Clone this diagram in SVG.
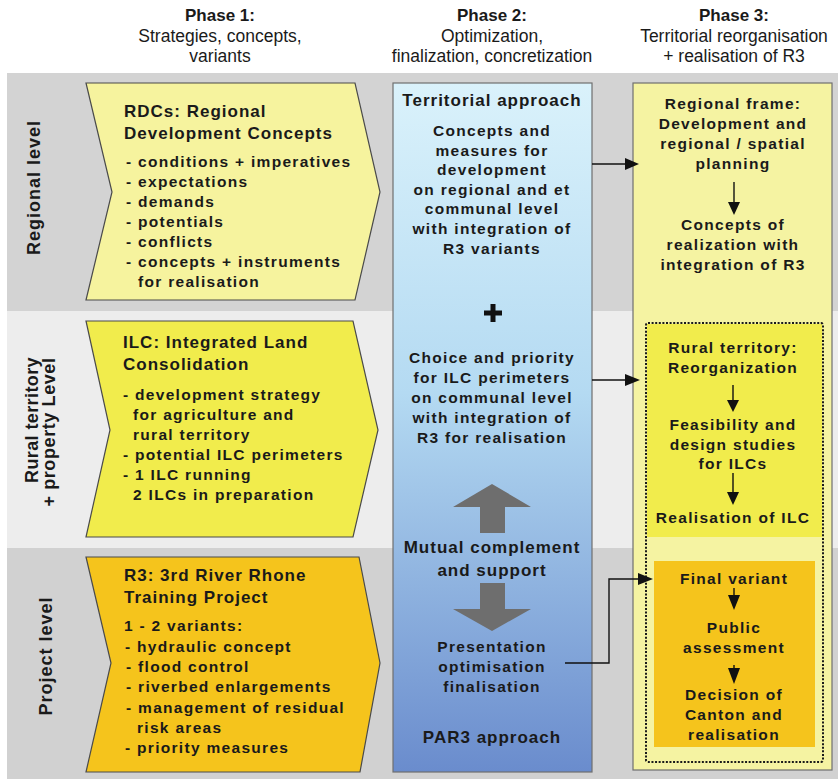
<svg xmlns="http://www.w3.org/2000/svg" width="838" height="779" viewBox="0 0 838 779">
<defs>
<linearGradient id="blueGrad" x1="0" y1="0" x2="0" y2="1">
<stop offset="0" stop-color="#daf2fb"/>
<stop offset="0.45" stop-color="#b4daf2"/>
<stop offset="1" stop-color="#6a8ccd"/>
</linearGradient>
<style>
text{font-family:"Liberation Sans",Arial,sans-serif;fill:#1a1a1a}
.hd{font-size:17.5px;text-anchor:middle}
.hdb{font-size:17px;text-anchor:middle;font-weight:bold}
.side{font-size:18px;font-weight:bold;text-anchor:middle;letter-spacing:1px}
.t1{font-size:17px;font-weight:bold;letter-spacing:1px}
.t2{font-size:15.5px;font-weight:bold;letter-spacing:1.3px}
.c{text-anchor:middle}
.chev{stroke:#4a4a4a;stroke-width:1.2}
.ln{fill:none;stroke:#111;stroke-width:1.4}
.ah{fill:#111}
.big{fill:#6e6e6e}
</style>
</defs>
<rect width="838" height="779" fill="#ffffff"/>
<g id="bands">
<rect x="7" y="73" width="831" height="238" fill="#d3d3d3"/>
<rect x="7" y="311" width="831" height="237" fill="#ededed"/>
<rect x="7" y="548" width="831" height="231" fill="#d1d1d1"/>
</g>
<g id="header">
<text class="hdb" x="220" y="21">Phase 1:</text>
<text class="hd" x="220" y="42">Strategies, concepts,</text>
<text class="hd" x="220" y="62">variants</text>
<text class="hdb" x="492" y="21">Phase 2:</text>
<text class="hd" x="492" y="42">Optimization,</text>
<text class="hd" x="492" y="62">finalization, concretization</text>
<text class="hdb" x="734" y="21">Phase 3:</text>
<text class="hd" x="734" y="42">Territorial reorganisation</text>
<text class="hd" x="734" y="62">+ realisation of  R3</text>
</g>
<g id="level-labels">
<text class="side" transform="translate(40,187.5) rotate(-90)">Regional level</text>
<text class="side" style="letter-spacing:0.4px" transform="translate(38,420) rotate(-90)">Rural territory</text>
<text class="side" style="letter-spacing:0.6px" transform="translate(55,432) rotate(-90)">+ property Level</text>
<text class="side" transform="translate(52,656) rotate(-90)">Project level</text>
</g>
<g id="rdc">
<polygon class="chev" fill="#f6f39e" points="86,83 355,83 380,192 355,300 86,300 112,192"/>
<text class="t1" x="124" y="117">RDCs: Regional</text>
<text class="t1" x="124" y="139">Development Concepts</text>
<text class="t2" x="126" y="167">- conditions + imperatives</text>
<text class="t2" x="126" y="187">- expectations</text>
<text class="t2" x="126" y="207">- demands</text>
<text class="t2" x="126" y="227">- potentials</text>
<text class="t2" x="126" y="247">- conflicts</text>
<text class="t2" x="126" y="267">- concepts + instruments</text>
<text class="t2" x="138" y="287">for realisation</text>
</g>
<g id="ilc">
<polygon class="chev" fill="#f1ec4c" points="86,321 353,321 378,430 353,537 86,537 110,430"/>
<text class="t1" x="123" y="348">ILC: Integrated Land</text>
<text class="t1" x="123" y="370">Consolidation</text>
<text class="t2" x="123" y="400">- development strategy</text>
<text class="t2" x="133" y="420">for agriculture and</text>
<text class="t2" x="133" y="440">rural territory</text>
<text class="t2" x="123" y="460">- potential ILC perimeters</text>
<text class="t2" x="123" y="480">- 1 ILC running</text>
<text class="t2" x="133" y="500">2 ILCs in preparation</text>
</g>
<g id="r3">
<polygon class="chev" fill="#f5c41c" points="86,557 359,557 380,663 360,772 86,772 111,663"/>
<text class="t1" x="124" y="581">R3: 3rd River Rhone</text>
<text class="t1" x="124" y="603">Training Project</text>
<text class="t2" x="124" y="631">1 - 2 variants:</text>
<text class="t2" x="125" y="652">- hydraulic concept</text>
<text class="t2" x="126" y="672">- flood control</text>
<text class="t2" x="126" y="692">- riverbed enlargements</text>
<text class="t2" x="126" y="713">- management of residual</text>
<text class="t2" x="137" y="733">risk areas</text>
<text class="t2" x="125" y="753">- priority measures</text>
</g>
<g id="phase2">
<rect x="393" y="83" width="199" height="689" fill="url(#blueGrad)" stroke="#6f6f6f" stroke-width="1.2"/>
<text class="t1 c" x="492" y="106">Territorial approach</text>
<text class="t2 c" x="492" y="136">Concepts and</text>
<text class="t2 c" x="492" y="156">measures for</text>
<text class="t2 c" x="492" y="175">development</text>
<text class="t2 c" x="492" y="195">on regional and et</text>
<text class="t2 c" x="492" y="214">communal level</text>
<text class="t2 c" x="492" y="234">with integration of</text>
<text class="t2 c" x="492" y="254">R3 variants</text>
<path d="M484,313 H502 M493,304 V322" stroke="#111" stroke-width="5" fill="none"/>
<text class="t2 c" x="492" y="363">Choice and priority</text>
<text class="t2 c" x="492" y="383">for ILC perimeters</text>
<text class="t2 c" x="492" y="403">on communal level</text>
<text class="t2 c" x="492" y="423">with integration of</text>
<text class="t2 c" x="492" y="443">R3 for realisation</text>
<polygon class="big" points="492,484 531,507 505,507 505,533 480,533 480,507 453,507"/>
<text class="t1 c" x="492" y="553">Mutual complement</text>
<text class="t1 c" x="492" y="576">and support</text>
<polygon class="big" points="480,583 505,583 505,609 531,609 492,631 453,609 480,609"/>
<text class="t2 c" x="492" y="652">Presentation</text>
<text class="t2 c" x="492" y="672">optimisation</text>
<text class="t2 c" x="492" y="692">finalisation</text>
<text class="t1 c" x="492" y="743">PAR3 approach</text>
</g>
<g id="phase3">
<rect x="633" y="83" width="199" height="687" fill="#f5f3a2" stroke="#6f6f6f" stroke-width="1.2"/>
<rect x="647" y="324" width="175" height="213" fill="#f1ec4c"/>
<rect x="646" y="323" width="177" height="439" rx="2" fill="none" stroke="#1a1a1a" stroke-width="2" stroke-dasharray="2 1.6"/>
<rect x="654" y="561" width="161" height="186" fill="#f5c41c"/>
<g id="regional-frame">
<text class="t2 c" x="733" y="109">Regional frame:</text>
<text class="t2 c" x="733" y="129">Development and</text>
<text class="t2 c" x="733" y="149">regional / spatial</text>
<text class="t2 c" x="733" y="169">planning</text>
<text class="t2 c" x="733" y="230">Concepts of</text>
<text class="t2 c" x="733" y="250">realization with</text>
<text class="t2 c" x="733" y="270">integration of R3</text>
</g>
<g id="rural-territory">
<text class="t2 c" x="733" y="353">Rural territory:</text>
<text class="t2 c" x="733" y="373">Reorganization</text>
<text class="t2 c" x="733" y="430">Feasibility and</text>
<text class="t2 c" x="733" y="450">design studies</text>
<text class="t2 c" x="733" y="469">for ILCs</text>
<text class="t2 c" x="733" y="523">Realisation of ILC</text>
</g>
<g id="final-variant">
<text class="t2 c" x="734" y="584">Final variant</text>
<text class="t2 c" x="734" y="633">Public</text>
<text class="t2 c" x="734" y="653">assessment</text>
<text class="t2 c" x="734" y="700">Decision of</text>
<text class="t2 c" x="734" y="720">Canton and</text>
<text class="t2 c" x="734" y="740">realisation</text>
</g>
</g>
<g id="connectors">
<path class="ln" d="M592,164 H626"/>
<polygon class="ah" points="625,158 639,164 625,170"/>
<path class="ln" d="M592,380 H626"/>
<polygon class="ah" points="625,374 640,380 625,386"/>
<path class="ln" d="M565,663 H609 V579 H640"/>
<polygon class="ah" points="638,573 653,579 638,585"/>
<path class="ln" d="M734,182 V204"/>
<polygon class="ah" points="728,202 740,202 734,215"/>
<path class="ln" d="M733,385 V401"/>
<polygon class="ah" points="727,400 739,400 733,412"/>
<path class="ln" d="M733,473 V493"/>
<polygon class="ah" points="727,492 739,492 733,505"/>
<path class="ln" d="M734,588 V596"/>
<polygon class="ah" points="728,595 740,595 734,610"/>
<path class="ln" d="M734,665 V669"/>
<polygon class="ah" points="728,668 740,668 734,684"/>
</g>
</svg>
